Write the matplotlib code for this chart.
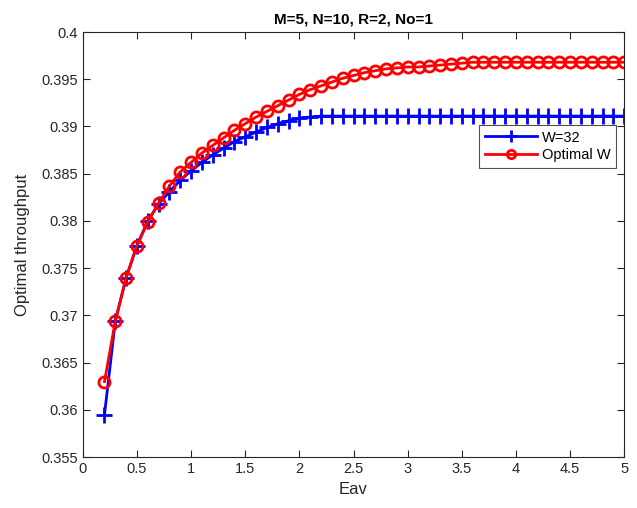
import matplotlib
matplotlib.use("Agg")
import matplotlib.pyplot as plt
import numpy as np

plt.rcParams['font.family'] = ['Liberation Sans', 'DejaVu Sans']

eav = np.round(np.arange(0.2, 5.01, 0.1), 1)

w32 = [0.3595, 0.3694, 0.3740, 0.3774, 0.3800, 0.3818, 0.3831, 0.3843, 0.3853,
       0.3862, 0.3870, 0.3877, 0.3884, 0.3889, 0.3894, 0.3899, 0.3903, 0.3906,
       0.3909, 0.3910, 0.3911] + [0.3911] * 28

opt_w = [0.3630, 0.3694, 0.3740, 0.3774, 0.3799, 0.3819, 0.3837, 0.3852, 0.3862,
         0.3872, 0.3880, 0.3888, 0.3896, 0.3903, 0.3910, 0.3916, 0.3922, 0.3928,
         0.3934, 0.3939, 0.3943, 0.3947, 0.3951, 0.3954, 0.3957, 0.3959, 0.3961,
         0.3962, 0.3963, 0.3963, 0.3964, 0.3965, 0.3966, 0.3967] + [0.3968] * 15

gray = '#262626'
fig = plt.figure(figsize=(6.37, 5.08), dpi=100)
ax = fig.add_axes([0.130, 0.100, 0.850, 0.837])

ax.plot(eav, w32, '-+', color='b', lw=2, ms=11, mew=2, label='W=32')
ax.plot(eav, opt_w, '-o', color='r', lw=2, ms=8, mew=2, mfc='none', label='Optimal W')

ax.set_xlim(0, 5)
ax.set_ylim(0.355, 0.4)
ax.set_xticks(np.arange(0, 5.01, 0.5))
ax.set_xticklabels(['0', '0.5', '1', '1.5', '2', '2.5', '3', '3.5', '4', '4.5', '5'])
ax.set_yticks(np.arange(0.355, 0.4001, 0.005))
ax.set_yticklabels(['0.355', '0.36', '0.365', '0.37', '0.375', '0.38', '0.385',
                    '0.39', '0.395', '0.4'])
ax.tick_params(direction='in', top=True, right=True, labelsize=10.5, length=5,
               colors=gray, labelcolor=gray)
for s in ax.spines.values():
    s.set_color(gray)
ax.set_xlabel('Eav', fontsize=12, color=gray)
ax.set_ylabel('Optimal throughput', fontsize=12, color=gray, labelpad=8)
ax.set_title('M=5, N=10, R=2, No=1', fontsize=11, fontweight='bold')

leg = ax.legend(loc='upper right', bbox_to_anchor=(0.985, 0.782), fancybox=False,
                edgecolor=gray, fontsize=10.5, handlelength=3.6, borderaxespad=0,
                borderpad=0.4, labelspacing=0.25, handletextpad=0.3,
                markerscale=0.75)
leg.get_frame().set_linewidth(0.8)

fig.savefig('out.png', dpi=100)
